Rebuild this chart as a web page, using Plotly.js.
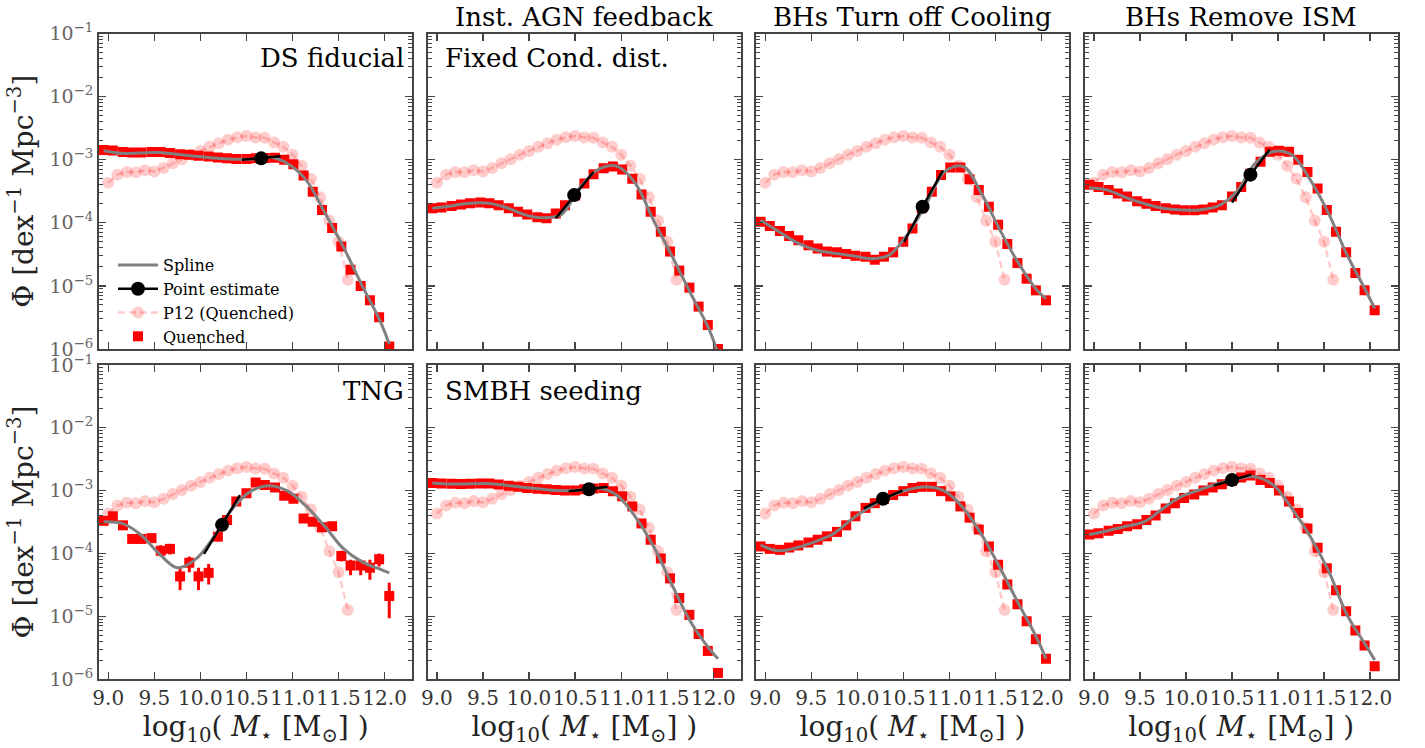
<!DOCTYPE html>
<html>
<head>
<meta charset="utf-8">
<script src="https://cdn.plot.ly/plotly-3.0.1.min.js"></script>
<style>html,body{margin:0;padding:0;background:#fff}#chart{width:1425px;height:748px}</style>
</head>
<body>
<div id="chart"></div>
<script>
// ---------------- DATA ----------------
const binX = [8.95, 9.05, 9.16, 9.26, 9.36, 9.47, 9.57, 9.67, 9.78, 9.88, 9.98, 10.09, 10.19, 10.29, 10.39, 10.50, 10.60, 10.70, 10.81, 10.91, 11.01, 11.12, 11.22, 11.32, 11.43, 11.53, 11.63, 11.74, 11.84, 11.94, 12.05];

const p12X = [9.0, 9.1, 9.2, 9.3, 9.4, 9.5, 9.6, 9.7, 9.8, 9.9, 10.0, 10.1, 10.2, 10.3, 10.4, 10.5, 10.6, 10.7, 10.8, 10.9, 11.0, 11.1, 11.2, 11.3, 11.4, 11.5, 11.6];
const p12Phi = [4.3e-4, 5.8e-4, 6.4e-4, 6.3e-4, 6.8e-4, 6.5e-4, 7.4e-4, 8.8e-4, 1.02e-3, 1.2e-3, 1.37e-3, 1.6e-3, 1.83e-3, 2.08e-3, 2.27e-3, 2.37e-3, 2.25e-3, 2.22e-3, 1.87e-3, 1.6e-3, 1.2e-3, 8.0e-4, 5.0e-4, 2.55e-4, 1.08e-4, 5.0e-5, 1.25e-5];

const splineX = [8.95, 9.15, 9.35, 9.55, 9.75, 9.95, 10.15, 10.35, 10.55, 10.75, 10.95, 11.15, 11.35, 11.55, 11.75, 11.95, 12.05];

// Quenched (red squares), one array per panel
const qDSFiducial = [1.42e-3, 1.40e-3, 1.33e-3, 1.30e-3, 1.30e-3, 1.33e-3, 1.33e-3, 1.28e-3, 1.22e-3, 1.20e-3, 1.15e-3, 1.12e-3, 1.08e-3, 1.05e-3, 1.03e-3, 1.03e-3, 1.05e-3, 1.06e-3, 1.07e-3, 1.0e-3, 8.5e-4, 5.6e-4, 3.1e-4, 1.6e-4, 8.3e-5, 4.2e-5, 1.8e-5, 1.0e-5, 5.9e-6, 3.2e-6, 1.1e-6];
const qFixedCond = [1.7e-4, 1.75e-4, 1.85e-4, 1.95e-4, 2.05e-4, 2.1e-4, 2.05e-4, 1.9e-4, 1.7e-4, 1.5e-4, 1.35e-4, 1.22e-4, 1.18e-4, 1.4e-4, 1.9e-4, 2.7e-4, 4.2e-4, 5.9e-4, 7.3e-4, 7.8e-4, 7.0e-4, 5.0e-4, 2.8e-4, 1.5e-4, 7.2e-5, 3.5e-5, 1.75e-5, 9.4e-6, 4.7e-6, 2.4e-6, 1.0e-6];
const qTurnOffCooling = [1.04e-4, 8.9e-5, 7.4e-5, 6.2e-5, 5.3e-5, 4.4e-5, 3.9e-5, 3.5e-5, 3.4e-5, 3.2e-5, 3.0e-5, 2.9e-5, 2.6e-5, 2.9e-5, 3.4e-5, 5.0e-5, 8.1e-5, 1.7e-4, 3.1e-4, 5.7e-4, 7.5e-4, 7.5e-4, 4.9e-4, 3.3e-4, 1.8e-4, 9.3e-5, 4.6e-5, 2.3e-5, 1.3e-5, 8.5e-6, 5.9e-6];
const qRemoveISM = [4.0e-4, 3.7e-4, 3.3e-4, 2.9e-4, 2.6e-4, 2.2e-4, 2.0e-4, 1.85e-4, 1.7e-4, 1.63e-4, 1.58e-4, 1.58e-4, 1.63e-4, 1.74e-4, 1.9e-4, 2.6e-4, 3.7e-4, 6.0e-4, 9.3e-4, 1.34e-3, 1.38e-3, 1.34e-3, 1.0e-3, 6.4e-4, 3.5e-4, 1.6e-4, 7.2e-5, 3.4e-5, 1.6e-5, 8.5e-6, 4.1e-6];
const qTNG = [3.3e-4, 3.9e-4, 2.8e-4, 1.7e-4, 1.7e-4, 1.75e-4, 1.1e-4, 1.18e-4, 4.3e-5, 7.1e-5, 4.3e-5, 4.9e-5, 1.85e-4, 3.4e-4, 6.7e-4, 9.1e-4, 1.35e-3, 1.23e-3, 1.12e-3, 8.3e-4, 7.4e-4, 3.6e-4, 3.2e-4, 2.6e-4, 2.7e-4, 9.1e-5, 6.4e-5, 6.4e-5, 5.9e-5, 8.1e-5, 2.1e-5];
const qTNGUpper = [3.8e-4, 4.4e-4, 3.2e-4, 2.0e-4, 2.0e-4, 2.05e-4, 1.35e-4, 1.42e-4, 5.9e-5, 8.9e-5, 5.9e-5, 6.8e-5, 2.15e-4, 3.8e-4, 7.3e-4, 9.8e-4, 1.45e-3, 1.32e-3, 1.2e-3, 8.9e-4, 8.0e-4, 3.95e-4, 3.5e-4, 2.9e-4, 3.0e-4, 1.1e-4, 7.9e-5, 7.9e-5, 7.9e-5, 1.0e-4, 3.4e-5];
const qTNGLower = [2.85e-4, 3.4e-4, 2.4e-4, 1.45e-4, 1.45e-4, 1.5e-4, 9.0e-5, 9.6e-5, 2.6e-5, 5.0e-5, 2.6e-5, 3.2e-5, 1.55e-4, 3.0e-4, 6.1e-4, 8.4e-4, 1.25e-3, 1.14e-3, 1.04e-3, 7.7e-4, 6.8e-4, 3.25e-4, 2.9e-4, 2.3e-4, 2.4e-4, 7.4e-5, 4.5e-5, 4.5e-5, 3.8e-5, 6.2e-5, 9.3e-6];
const qSMBHSeeding = [1.32e-3, 1.30e-3, 1.28e-3, 1.27e-3, 1.28e-3, 1.30e-3, 1.30e-3, 1.25e-3, 1.20e-3, 1.15e-3, 1.10e-3, 1.07e-3, 1.05e-3, 1.02e-3, 1.0e-3, 1.0e-3, 1.05e-3, 1.08e-3, 1.1e-3, 9.8e-4, 8.1e-4, 5.6e-4, 3.0e-4, 1.65e-4, 8.3e-5, 4.0e-5, 1.95e-5, 1.05e-5, 5.2e-6, 2.8e-6, 1.25e-6];
const qBottomCol3 = [1.29e-4, 1.18e-4, 1.14e-4, 1.24e-4, 1.34e-4, 1.49e-4, 1.65e-4, 1.87e-4, 2.2e-4, 2.8e-4, 3.9e-4, 5.3e-4, 6.3e-4, 7.4e-4, 8.5e-4, 9.8e-4, 1.1e-3, 1.15e-3, 1.15e-3, 9.8e-4, 8.1e-4, 5.6e-4, 3.7e-4, 2.4e-4, 1.29e-4, 6.6e-5, 3.2e-5, 1.55e-5, 8.3e-6, 4.3e-6, 2.1e-6];
const qBottomCol4 = [2.0e-4, 2.1e-4, 2.3e-4, 2.45e-4, 2.7e-4, 2.9e-4, 3.4e-4, 4.0e-4, 5.2e-4, 6.3e-4, 7.6e-4, 8.7e-4, 1.0e-3, 1.12e-3, 1.26e-3, 1.42e-3, 1.62e-3, 1.74e-3, 1.48e-3, 1.32e-3, 1.0e-3, 6.7e-4, 4.4e-4, 2.5e-4, 1.23e-4, 5.8e-5, 2.6e-5, 1.2e-5, 5.9e-6, 3.4e-6, 1.6e-6];

// Spline curves (values at splineX)
const sDSFiducial = [1.39e-3, 1.26e-3, 1.28e-3, 1.30e-3, 1.22e-3, 1.13e-3, 1.06e-3, 1.02e-3, 1.02e-3, 1.10e-3, 8.6e-4, 4.7e-4, 1.45e-4, 4.2e-5, 1.05e-5, 2.8e-6, 1.2e-6];
const sFixedCond = [1.7e-4, 1.85e-4, 2.05e-4, 2.05e-4, 1.75e-4, 1.35e-4, 1.2e-4, 1.35e-4, 3.6e-4, 7.0e-4, 7.9e-4, 4.3e-4, 1.1e-4, 3.0e-5, 7.8e-6, 2.1e-6, 8.5e-7];
const sTurnOffCooling = [1.1e-4, 7.2e-5, 4.8e-5, 3.7e-5, 3.3e-5, 3.0e-5, 2.7e-5, 3.1e-5, 6.7e-5, 2.0e-4, 6.5e-4, 7.8e-4, 2.9e-4, 7.7e-5, 2.3e-5, 8.6e-6, 6.3e-6];
const sRemoveISM = [3.6e-4, 3.3e-4, 2.5e-4, 2.0e-4, 1.7e-4, 1.6e-4, 1.6e-4, 1.85e-4, 3.1e-4, 8.7e-4, 1.35e-3, 1.2e-3, 4.8e-4, 1.4e-4, 3.1e-5, 8.6e-6, 4.4e-6];
const sTNG = [3.2e-4, 3.0e-4, 2.0e-4, 1.0e-4, 5.9e-5, 8.1e-5, 1.86e-4, 5.2e-4, 9.8e-4, 1.2e-3, 9.8e-4, 5.6e-4, 2.7e-4, 1.2e-4, 7.4e-5, 5.6e-5, 4.9e-5];
const sSMBHSeeding = [1.32e-3, 1.27e-3, 1.28e-3, 1.30e-3, 1.22e-3, 1.12e-3, 1.05e-3, 1.0e-3, 1.02e-3, 1.1e-3, 8.5e-4, 3.9e-4, 1.3e-4, 3.2e-5, 8.3e-6, 3.1e-6, 2.1e-6];
const sBottomCol3 = [1.35e-4, 1.1e-4, 1.24e-4, 1.55e-4, 2.1e-4, 3.6e-4, 5.6e-4, 8.1e-4, 1.03e-3, 1.15e-3, 9.8e-4, 5.3e-4, 2.0e-4, 5.9e-5, 1.6e-5, 4.5e-6, 2.1e-6];
const sBottomCol4 = [2.0e-4, 2.3e-4, 2.7e-4, 3.2e-4, 5.2e-4, 8.1e-4, 1.03e-3, 1.3e-3, 1.53e-3, 1.66e-3, 1.22e-3, 5.2e-4, 1.86e-4, 5.2e-5, 1.05e-5, 3.5e-6, 2.0e-6];

// Point estimates and their slope segments (panel order: top row L->R, bottom row L->R)
const pointX = [10.66, 10.49, 10.71, 10.70, 10.235, 10.65, 10.28, 10.50];
const pointPhi = [1.05e-3, 2.75e-4, 1.8e-4, 5.8e-4, 2.85e-4, 1.05e-3, 7.4e-4, 1.48e-3];
const segStartX = [10.45, 10.29, 10.51, 10.50, 10.04, 10.43, 10.07, 10.30];
const segStartPhi = [1.0e-3, 1.18e-4, 5.0e-5, 2.1e-4, 9.8e-5, 9.8e-4, 5.2e-4, 1.2e-3];
const segEndX = [10.87, 10.70, 10.93, 10.91, 10.43, 10.85, 10.49, 10.71];
const segEndPhi = [1.13e-3, 6.4e-4, 6.7e-4, 1.45e-3, 8.5e-4, 1.15e-3, 1.0e-3, 1.8e-3];

const panelLabels = ['DS fiducial', 'Fixed Cond. dist.', '', '', 'TNG', 'SMBH seeding', '', ''];
const columnTitles = ['', 'Inst. AGN feedback', 'BHs Turn off Cooling', 'BHs Remove ISM'];

const xTickVals = [9.0, 9.5, 10.0, 10.5, 11.0, 11.5, 12.0];
const xTickText = ['9.0', '9.5', '10.0', '10.5', '11.0', '11.5', '12.0'];
const yTickVals = [1e-6, 1e-5, 1e-4, 1e-3, 1e-2, 1e-1];
const yTickText = ['10<sup>−6</sup>', '10<sup>−5</sup>', '10<sup>−4</sup>', '10<sup>−3</sup>', '10<sup>−2</sup>', '10<sup>−1</sup>'];

const quenched = [qDSFiducial, qFixedCond, qTurnOffCooling, qRemoveISM, qTNG, qSMBHSeeding, qBottomCol3, qBottomCol4];
const splines = [sDSFiducial, sFixedCond, sTurnOffCooling, sRemoveISM, sTNG, sSMBHSeeding, sBottomCol3, sBottomCol4];

// ---------------- LAYOUT ----------------
const W = 1425, H = 748;
const M = {l: 99, r: 27, t: 33, b: 69};
const fx = px => (px - M.l) / (W - M.l - M.r);
const fy = py => 1 - (py - M.t) / (H - M.t - M.b);
const colPx = [[99, 412.3], [427.7, 741], [756, 1069], [1084.7, 1397.7]];
const rowPx = [[33.5, 349], [365, 679]];
const FONT = 'DejaVu Serif, serif';
const AXC = '#444';

const minorVals = [];
for (let e = -6; e < -1; e++) for (let k = 2; k <= 9; k++) minorVals.push(k * Math.pow(10, e));

const traces = [];
const layout = {
  width: W, height: H,
  margin: M,
  paper_bgcolor: '#fff', plot_bgcolor: '#fff',
  showlegend: true,
  legend: {
    x: fx(113), y: fy(248), xanchor: 'left', yanchor: 'top',
    font: {family: FONT, size: 16, color: '#000'},
    bgcolor: 'rgba(0,0,0,0)', borderwidth: 0,
    itemwidth: 40, tracegroupgap: 0
  },
  annotations: []
};

for (let i = 0; i < 8; i++) {
  const row = i < 4 ? 0 : 1, col = i % 4;
  const sfx = i === 0 ? '' : String(i + 1);
  const xa = 'x' + sfx, ya = 'y' + sfx;

  layout['xaxis' + sfx] = {
    domain: [fx(colPx[col][0]), fx(colPx[col][1])],
    anchor: ya, range: [8.9, 12.3],
    tickmode: 'array', tickvals: xTickVals, ticktext: xTickText, tickangle: 0,
    ticks: 'inside', ticklen: 7, tickwidth: 1.3, tickcolor: AXC,
    showline: true, linecolor: AXC, linewidth: 2, mirror: 'ticks',
    showgrid: false, zeroline: false,
    showticklabels: row === 1,
    tickfont: {family: FONT, size: 20, color: '#333'},
    title: row === 1 ? {text: 'log<sub>10</sub>( <i>M</i><sub>⋆</sub> [M<sub>⊙</sub>] )', font: {family: FONT, size: 28, color: '#222'}, standoff: 4} : {text: ''}
  };
  layout['yaxis' + sfx] = {
    domain: [fy(rowPx[row][1]), fy(rowPx[row][0])],
    anchor: xa, type: 'log', range: [-6, -1],
    tickmode: 'array', tickvals: yTickVals, ticktext: yTickText,
    ticks: 'inside', ticklen: 7, tickwidth: 1.3, tickcolor: AXC,
    minor: {tickmode: 'array', tickvals: minorVals, ticks: 'inside', ticklen: 4, tickwidth: 1, tickcolor: AXC, showgrid: false},
    showline: true, linecolor: AXC, linewidth: 2, mirror: 'ticks',
    showgrid: false, zeroline: false,
    showticklabels: col === 0,
    automargin: col === 0,
    tickfont: {family: FONT, size: 19, color: '#666'},
    title: col === 0 ? {text: 'Φ [dex<sup>−1</sup> Mpc<sup>−3</sup>]', font: {family: FONT, size: 28, color: '#222'}, standoff: 8} : {text: ''}
  };

  // P12 observational
  traces.push({
    type: 'scatter', mode: 'lines+markers', name: 'P12 (Quenched)',
    x: p12X, y: p12Phi, xaxis: xa, yaxis: ya,
    line: {color: 'rgba(255,0,0,0.2)', width: 2.5, dash: '7px,4px'},
    marker: {color: 'rgba(255,0,0,0.2)', size: 12},
    showlegend: i === 0, legendrank: 3, legendgroup: 'p12'
  });
  // Quenched sim data
  const qt = {
    type: 'scatter', mode: 'markers', name: 'Quenched',
    x: binX, y: quenched[i], xaxis: xa, yaxis: ya,
    marker: {color: '#ff0000', symbol: 'square', size: 10, line: {width: 0}},
    showlegend: i === 0, legendrank: 4, legendgroup: 'q'
  };
  if (i === 4) {
    qt.error_y = {
      type: 'data', symmetric: false,
      array: qTNGUpper.map((u, k) => u - qTNG[k]),
      arrayminus: qTNGLower.map((l, k) => qTNG[k] - l),
      color: '#ff0000', thickness: 3, width: 0
    };
  }
  traces.push(qt);
  // Spline
  traces.push({
    type: 'scatter', mode: 'lines', name: 'Spline',
    x: splineX, y: splines[i], xaxis: xa, yaxis: ya,
    line: {color: '#808080', width: 3, shape: 'spline', smoothing: 1},
    showlegend: i === 0, legendrank: 1, legendgroup: 'spl'
  });
  // Point estimate slope segment
  traces.push({
    type: 'scatter', mode: 'lines', name: 'Point estimate slope',
    x: [segStartX[i], pointX[i], segEndX[i]], y: [segStartPhi[i], pointPhi[i], segEndPhi[i]],
    xaxis: xa, yaxis: ya,
    line: {color: '#000', width: 2.5},
    showlegend: false, legendgroup: 'pe'
  });
  // Point estimate
  traces.push({
    type: 'scatter', mode: 'lines+markers', name: 'Point estimate',
    x: [pointX[i]], y: [pointPhi[i]], xaxis: xa, yaxis: ya,
    line: {color: '#000', width: 2.5},
    marker: {color: '#000', size: 14},
    showlegend: i === 0, legendrank: 2, legendgroup: 'pe'
  });

  // panel label
  if (panelLabels[i]) {
    const right = (i === 0 || i === 4);
    layout.annotations.push({
      xref: 'paper', yref: 'paper',
      x: right ? fx(colPx[col][1] - 6) : fx(colPx[col][0] + 15),
      y: fy(rowPx[row][0] + (row === 0 ? 24 : 26)),
      xanchor: right ? 'right' : 'left', yanchor: 'middle',
      text: panelLabels[i], showarrow: false,
      font: {family: FONT, size: 26, color: '#000'}
    });
  }
}

for (let c = 0; c < 4; c++) {
  if (!columnTitles[c]) continue;
  layout.annotations.push({
    xref: 'paper', yref: 'paper',
    x: fx((colPx[c][0] + colPx[c][1]) / 2), y: fy(17),
    xanchor: 'center', yanchor: 'middle',
    text: columnTitles[c], showarrow: false,
    font: {family: FONT, size: 26, color: '#000'}
  });
}

Plotly.newPlot('chart', traces, layout, {displayModeBar: false, staticPlot: true});
</script>
</body>
</html>
